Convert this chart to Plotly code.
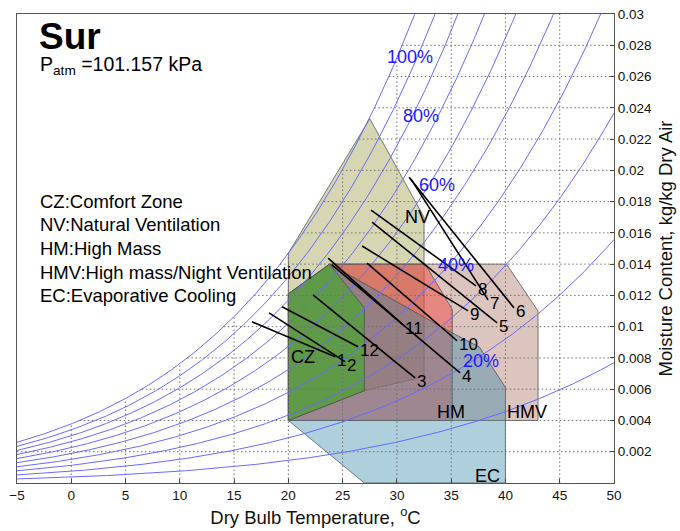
import numpy as np
import plotly.graph_objects as go

# ---------------- data ----------------
P_ATM = 101.157  # kPa
SITE = "Sur"

rh_levels = [10, 20, 30, 40, 50, 60, 70, 80, 90, 100]
rh_labelled = [100, 80, 60, 40, 20]

x_ticks = [-5, 0, 5, 10, 15, 20, 25, 30, 35, 40, 45, 50]
y_ticks = [0.002, 0.004, 0.006, 0.008, 0.01, 0.012, 0.014, 0.016,
           0.018, 0.02, 0.022, 0.024, 0.026, 0.028, 0.03]
y_tick_text = ["0.002", "0.004", "0.006", "0.008", "0.01", "0.012", "0.014",
               "0.016", "0.018", "0.02", "0.022", "0.024", "0.026", "0.028", "0.03"]

# monthly daily swing: (min temp, moisture) -> (max temp, moisture)
months = [1, 2, 3, 4, 5, 6, 7, 8, 9, 10, 11, 12]
t_low = [16.65, 18.22, 22.27, 24.02, 27.71, 31.12, 31.30, 27.62, 26.79, 27.25, 23.66, 19.42]
w_high = [0.01031, 0.01088, 0.01203, 0.01395, 0.01669, 0.01956, 0.01944, 0.01746,
          0.01516, 0.01407, 0.01439, 0.01127]
t_high = [24.30, 25.22, 31.67, 35.82, 39.23, 40.79, 38.40, 37.29, 36.56, 35.54, 30.57, 26.42]
w_low = [0.00807, 0.00776, 0.00673, 0.00705, 0.01024, 0.01120, 0.01171, 0.01261,
         0.01101, 0.00910, 0.01012, 0.00871]

# design strategy zones (dry bulb, moisture content)
nv_t = [20, 20, 27.5, 32.5, 32.5, 27]
nv_w = [0.004, 0.0147, 0.0233, 0.017, 0.0068, 0.0059]
hmv_t = [20, 20, 23.8, 40.1, 43, 43]
hmv_w = [0.004, 0.0121, 0.014, 0.014, 0.011, 0.004]
hm_t = [20, 20, 23.8, 32.6, 35.1, 35.1]
hm_w = [0.004, 0.0121, 0.014, 0.014, 0.0111, 0.004]
ec_t = [20, 23.8, 35.1, 37.6, 40, 40, 27]
ec_w = [0.004, 0.014, 0.0096, 0.0087, 0.0061, 0, 0]
cz_t = [20, 20, 23.8, 27, 27]
cz_w = [0.004, 0.0121, 0.014, 0.0112, 0.0059]

zone_legend = ["CZ:Comfort Zone", "NV:Natural Ventilation", "HM:High Mass",
               "HMV:High mass/Night Ventilation", "EC:Evaporative Cooling"]

# ---------------- psychrometrics ----------------
def p_sat(t):
    t = np.asarray(t, dtype=float)
    return 0.61094 * np.exp(17.625 * t / (t + 243.04))


def w_at(t, rh):
    pw = rh / 100.0 * p_sat(t)
    return 0.622 * pw / (P_ATM - pw)


def t_sat(w):
    pw = w * P_ATM / (0.622 + w)
    a = np.log(pw / 0.61094)
    return 243.04 * a / (17.625 - a)


X_MIN, X_MAX = x_ticks[0], x_ticks[-1]
Y_MAX = y_ticks[-1]

FONT = "Arial, Liberation Sans, Helvetica, sans-serif"
fig = go.Figure()

# ---------------- zones ----------------
zones = [
    (nv_t, nv_w, "rgba(173,173,101,0.5)"),
    (hmv_t, hmv_w, "rgba(155,89,69,0.35)"),
    (hm_t, hm_w, "rgba(240,73,70,0.5)"),
    (ec_t, ec_w, "rgba(52,135,167,0.4)"),
    (cz_t, cz_w, "rgba(95,154,73,1)"),
]
for zt, zw, col in zones:
    fig.add_trace(go.Scatter(
        x=list(zt) + [zt[0]], y=list(zw) + [zw[0]], mode="lines",
        fill="toself", fillcolor=col,
        line=dict(color="rgba(70,70,70,0.7)", width=1),
        hoverinfo="skip"))

# ---------------- grid under the saturation curve ----------------
gx, gy = [], []
for t in x_ticks[1:-1]:
    gx += [t, t, None]
    gy += [0, min(float(w_at(t, 100)), Y_MAX), None]
for w in y_ticks[:-1]:
    gx += [max(float(t_sat(w)), X_MIN), X_MAX, None]
    gy += [w, w, None]
fig.add_trace(go.Scatter(x=gx, y=gy, mode="lines",
                         line=dict(color="#707070", width=1, dash="1.5px,2.5px"),
                         hoverinfo="skip"))

# ---------------- relative humidity curves ----------------
tt = np.linspace(X_MIN, X_MAX, 441)
for rh in rh_levels:
    ww = w_at(tt, rh)
    keep = ww <= Y_MAX * 1.05
    fig.add_trace(go.Scatter(x=tt[keep], y=ww[keep], mode="lines",
                             line=dict(color="rgb(105,105,255)", width=1),
                             hoverinfo="skip"))

# ---------------- monthly lines ----------------
mx, my = [], []
for a, b, c, d in zip(t_low, w_high, t_high, w_low):
    mx += [a, c, None]
    my += [b, d, None]
fig.add_trace(go.Scatter(x=mx, y=my, mode="lines",
                         line=dict(color="black", width=1.6), hoverinfo="skip"))

ann = []
for m, c, d in zip(months, t_high, w_low):
    ann.append(dict(x=c, y=d, text=str(m), showarrow=False, xanchor="left",
                    yanchor="middle", xshift=0, yshift=-4,
                    font=dict(size=17, color="black")))

# relative humidity labels
rh_label_pos = {100: (31.2, 0.02722), 80: (32.2, 0.02346), 60: (33.7, 0.01905),
                40: (35.46, 0.01395), 20: (37.76, 0.00782)}
for rh in rh_labelled:
    px, py = rh_label_pos[rh]
    ann.append(dict(x=px, y=py, text=f"{rh}%", showarrow=False,
                    font=dict(size=18, color="rgb(25,25,255)")))

# zone tags
for txt, px, py in [("CZ", 21.35, 0.00806), ("NV", 31.86, 0.01701),
                    ("HM", 34.99, 0.00456), ("HMV", 42.0, 0.00456),
                    ("EC", 38.3, 0.00048)]:
    ann.append(dict(x=px, y=py, text=txt, showarrow=False,
                    font=dict(size=18, color="black")))

# zone key
for i, txt in enumerate(zone_legend):
    ann.append(dict(x=-3.1, y=0.01802 - i * 0.00151, text=txt, showarrow=False,
                    xanchor="left", yanchor="middle",
                    font=dict(size=18.5, color="black")))

# site name and pressure
ann.append(dict(x=-3.2, y=0.02855, text=f"<b>{SITE}</b>", showarrow=False,
                xanchor="left", yanchor="middle", font=dict(size=37, color="black")))
ann.append(dict(x=-3.1, y=0.0267, text=f"P<sub>atm</sub> ={P_ATM:.3f} kPa",
                showarrow=False, xanchor="left", yanchor="middle",
                font=dict(size=19.5, color="black")))

fig.update_layout(
    width=680, height=531,
    margin=dict(l=17, r=66, t=14, b=48),
    paper_bgcolor="white", plot_bgcolor="white",
    showlegend=False,
    font=dict(family=FONT, color="#111"),
    annotations=ann,
    xaxis=dict(range=[X_MIN, X_MAX], tickvals=x_ticks, ticks="inside", ticklen=4,
               tickcolor="#444", showline=True, linecolor="#555", mirror=True,
               showgrid=False, zeroline=False, tickfont=dict(size=13.5),
               automargin=False,
               title=dict(text="Dry Bulb Temperature, <sup>o</sup>C",
                          font=dict(size=18.5), standoff=8)),
    yaxis=dict(range=[0, Y_MAX], side="right", tickvals=y_ticks, ticktext=y_tick_text,
               ticks="inside", ticklen=4, tickcolor="#444", showline=True,
               linecolor="#555", mirror=True, showgrid=False, zeroline=False,
               tickfont=dict(size=13.5), automargin=False,
               title=dict(text="Moisture Content, kg/kg Dry Air",
                          font=dict(size=18.5), standoff=8)),
)

fig.write_html("out.html")
